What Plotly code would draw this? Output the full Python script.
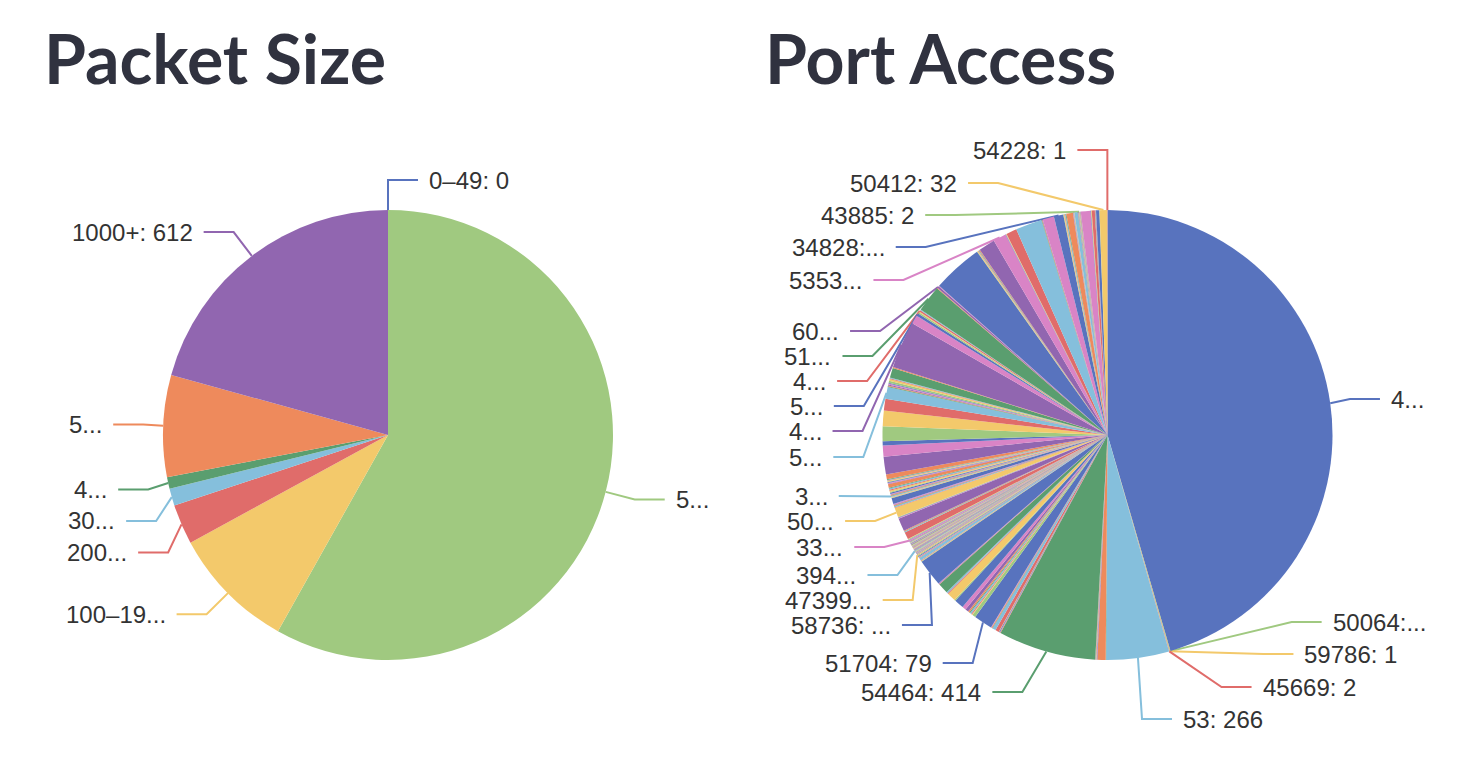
import math
import plotly.graph_objects as go

W, H = 1474, 778

# ---------------- data ----------------
PALETTE = ["#5873be", "#a0c980", "#f3c96b", "#e06c6a", "#85bfdc",
           "#5a9e6f", "#ee8a5c", "#9166b0", "#d984c6"]

packet_bins = ["0–49", "50–99", "100–199", "200–299", "300–399",
               "400–499", "500–999", "1000+"]
packet_counts = [0, 1719, 264, 85, 36, 25, 216, 612]
packet_label_texts = ["0–49: 0", "5...", "100–19...", "200...", "30...",
                      "4...", "5...", "1000+: 612"]

# Port Access slice values, clockwise from 12 o'clock (one palette cycle per row)
port_values = [
    2684, 3, 1, 2, 266, 2, 35, 2, 1,
    1, 1, 1, 2, 1, 414, 2, 1, 1,
    3, 1, 1, 15, 14, 2, 3, 1, 2,
    79, 14, 3, 4, 6, 4, 6, 14, 16,
    40, 5, 36, 4, 6, 44, 2, 2, 2,
    115, 2, 2, 2, 12, 1, 2, 1, 2,
    3, 4, 3, 2, 2, 1, 2, 1, 2,
    2, 2, 1, 2, 3, 2, 1, 2, 1,
    2, 1, 2, 1, 2, 1, 2, 1, 2,
    1, 2, 1, 2, 1, 2, 1, 2, 1,
    2, 1, 2, 1, 2, 1, 2, 2, 4,
    2, 3, 2, 30, 3, 2, 3, 55, 3,
    2, 2, 40, 3, 4, 2, 3, 3, 3,
    25, 2, 2, 2, 3, 2, 3, 2, 3,
    5, 3, 6, 4, 5, 4, 14, 3, 3,
    3, 2, 3, 2, 3, 3, 20, 75, 47,
    18, 62, 66, 50, 50, 3, 3, 4, 5,
    3, 8, 8, 3, 3, 42, 4, 200, 36,
    12, 6, 3, 7, 3, 112, 3, 8, 3,
    213, 2, 3, 2, 2, 2, 3, 70, 55,
    2, 1, 2, 45, 112, 2, 2, 2, 48,
    40, 2, 3, 2, 3, 3, 28, 1, 1,
    1, 1, 1, 1, 14, 1, 1, 1, 1,
    1, 2, 1, 1, 1, 1, 1, 1, 41,
    2, 1, 2, 13, 1, 1, 1, 1, 1,
    14, 1, 32, 1,
]
port_label_slices = [0, 1, 2, 3, 4, 228, 227, 208, 189, 179, 169, 167, 165,
                     162, 160, 148, 121, 110, 98, 67, 56, 45, 27, 14]
port_label_texts = ["4...", "50064:...", "59786: 1", "45669: 2", "53: 266",
                    "54228: 1", "50412: 32", "43885: 2", "34828:...", "5353...",
                    "60...", "51...", "4...", "5...", "4...", "5...", "3...",
                    "50...", "33...", "394...", "47399...", "58736: ...",
                    "51704: 79", "54464: 414"]
# label rows after overlap avoidance (screen px)
port_label_y = [399, 622, 654, 687, 719, 150, 183, 215, 247, 280, 331, 356,
                381, 406, 431, 457, 496, 521, 547, 575, 600, 625, 663, 692]

# ---------------- geometry ----------------
R = 225
L1, L2, DIST = 30, 30, 10
LABEL_H = 31.5
PIE1 = (388, 435)
PIE2 = (1107.5, 435)
LABEL_FONT = dict(family="Liberation Sans, Arial, sans-serif", size=24, color="#333333")


def mid_angles(values):
    tot = float(sum(values))
    out, acc = [], 0.0
    for v in values:
        out.append((acc + v / 2.0) / tot * 360.0)
        acc += v
    return out


def place_labels(cx, cy, thetas, y_override=None, rb_override=None):
    items = []
    for k, th in enumerate(thetas):
        a = math.radians(th)
        dx, dy = math.sin(a), -math.cos(a)
        it = dict(k=k, x1=cx + R * dx, y1=cy + R * dy,
                  x2=cx + (R + L1) * dx, y2=cy + (R + L1) * dy,
                  dir=-1 if dx < 0 else 1)
        it["y"] = it["y2"] if y_override is None else y_override[k]
        items.append(it)
    rA = R + L1
    for d in (-1, 1):
        side = [it for it in items if it["dir"] == d]
        side.sort(key=lambda it: it["y"])
        adjusted = y_override is not None
        if y_override is None and len(side) >= 2:
            last = -1e9
            for it in side:
                top = it["y"] - LABEL_H / 2
                if top < last:
                    it["y"] += last - top
                    adjusted = True
                last = it["y"] + LABEL_H / 2
        for it in side:
            it["adj"] = adjusted
        if not adjusted:
            continue
        for semi in ("top", "bottom"):
            lst = [it for it in side if (it["y"] > cy) == (semi == "bottom")]
            if not lst:
                continue
            ext = max(lst, key=lambda it: abs(it["y"] - cy))
            ddy = abs(ext["y"] - cy)
            dx0 = abs(ext["x2"] - cx) + DIST
            rB = math.sqrt(ddy * ddy / (1 - dx0 * dx0 / rA / rA)) if dx0 < rA else rA
            if rb_override and (d, semi) in rb_override:
                rB = rb_override[(d, semi)]
            for it in lst:
                ddy = abs(it["y"] - cy)
                ex = rA * math.sqrt(max(0.0, 1 - ddy * ddy / rB / rB))
                it["ex"] = ex
    out = []
    for it in items:
        d = it["dir"]
        if it.get("adj") and "ex" in it:
            xe = cx + d * (it["ex"] - DIST)
            tx = cx + d * (it["ex"] + L2)
        else:
            xe = it["x2"]
            tx = it["x2"] + d * (L2 + DIST)
        xend = xe + d * L2
        out.append(dict(pts=([it["x1"], xe, xend], [it["y1"], it["y"], it["y"]]),
                        tx=tx, ty=it["y"], dir=d))
    return out


def domain(c):
    cx, cy = c
    return dict(x=[(cx - R) / W, (cx + R) / W], y=[1 - (cy + R) / H, 1 - (cy - R) / H])


fig = go.Figure()

fig.add_trace(go.Pie(
    values=packet_counts, labels=packet_bins, sort=False, direction="clockwise",
    rotation=0, textinfo="none", domain=domain(PIE1), showlegend=False,
    marker=dict(colors=[PALETTE[i % 9] for i in range(len(packet_counts))],
                line=dict(width=0)),
    hovertemplate="%{label}: %{value}<extra></extra>"))

fig.add_trace(go.Pie(
    values=port_values, sort=False, direction="clockwise",
    rotation=0, textinfo="none", domain=domain(PIE2), showlegend=False,
    marker=dict(colors=[PALETTE[i % 9] for i in range(len(port_values))],
                line=dict(width=0)),
    hovertemplate="%{value}<extra></extra>"))

annotations = []

# Packet Size labels
pk_mids = mid_angles(packet_counts)
pk_layout = place_labels(PIE1[0], PIE1[1], pk_mids)
for i, lab in enumerate(pk_layout):
    xs, ys = lab["pts"]
    fig.add_trace(go.Scatter(x=xs, y=ys, mode="lines", hoverinfo="skip",
                             showlegend=False,
                             line=dict(color=PALETTE[i % 9], width=2)))
    annotations.append(dict(x=lab["tx"], y=lab["ty"], xref="x", yref="y",
                            text=packet_label_texts[i], showarrow=False,
                            xanchor="left" if lab["dir"] > 0 else "right",
                            yanchor="middle", font=LABEL_FONT, borderpad=0))

# Port Access labels
pt_mids_all = mid_angles(port_values)
pt_mids = [pt_mids_all[s] for s in port_label_slices]
pt_layout = place_labels(PIE2[0], PIE2[1], pt_mids, y_override=port_label_y,
                         rb_override={(-1, "bottom"): 277})
for j, lab in enumerate(pt_layout):
    xs, ys = lab["pts"]
    fig.add_trace(go.Scatter(x=xs, y=ys, mode="lines", hoverinfo="skip",
                             showlegend=False,
                             line=dict(color=PALETTE[port_label_slices[j] % 9], width=2)))
    annotations.append(dict(x=lab["tx"], y=lab["ty"], xref="x", yref="y",
                            text=port_label_texts[j], showarrow=False,
                            xanchor="left" if lab["dir"] > 0 else "right",
                            yanchor="middle", font=LABEL_FONT, borderpad=0))

TITLE_FONT = dict(family="Lato, 'Noto Sans', sans-serif", size=68, color="#30323f")
for txt, x0 in (("Packet Size", 42), ("Port Access", 763)):
    annotations.append(dict(x=x0, y=57, xref="x", yref="y", text="<b>%s</b>" % txt,
                            showarrow=False, xanchor="left", yanchor="middle",
                            font=TITLE_FONT))

fig.update_layout(
    width=W, height=H, margin=dict(l=0, r=0, t=0, b=0),
    paper_bgcolor="white", plot_bgcolor="white", showlegend=False,
    xaxis=dict(range=[0, W], visible=False, fixedrange=True, domain=[0, 1]),
    yaxis=dict(range=[H, 0], visible=False, fixedrange=True, domain=[0, 1]),
    annotations=annotations,
)

fig.write_html("out.html")
